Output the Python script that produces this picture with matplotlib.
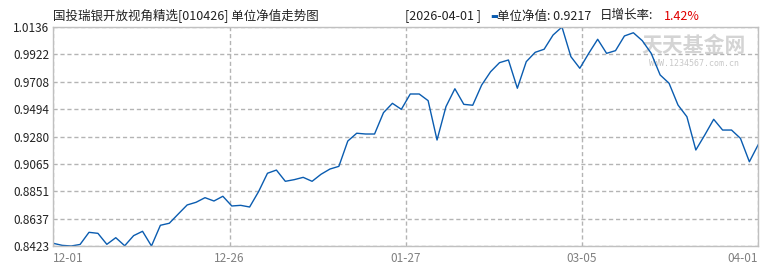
import matplotlib
matplotlib.use('Agg')
import matplotlib.pyplot as plt
import numpy as np

plt.rcParams['font.family'] = ['Noto Sans CJK SC', 'DejaVu Sans']

# 单位净值, trading days 2025-12-01 .. 2026-04-01
nav = [
    0.8444, 0.8428, 0.8423, 0.8435, 0.8530, 0.8522, 0.8436, 0.8488, 0.8425, 0.8504,
    0.8538, 0.8423, 0.8585, 0.8601, 0.8673, 0.8744, 0.8765, 0.8801, 0.8775, 0.8812,
    0.8736, 0.8741, 0.8728, 0.8848, 0.8992, 0.9017, 0.8929, 0.8942, 0.8960, 0.8929,
    0.8984, 0.9025, 0.9046, 0.9244, 0.9305, 0.9299, 0.9299, 0.9466, 0.9539, 0.9492,
    0.9612, 0.9612, 0.9560, 0.9252, 0.9513, 0.9653, 0.9531, 0.9524, 0.9682, 0.9786,
    0.9857, 0.9878, 0.9657, 0.9865, 0.9938, 0.9962, 1.0073, 1.0136, 0.9904, 0.9813,
    0.9930, 1.0040, 0.9930, 0.9951, 1.0066, 1.0091, 1.0029, 0.9930, 0.9761, 0.9696,
    0.9526, 0.9434, 0.9174, 0.9291, 0.9414, 0.9330, 0.9330, 0.9265, 0.9082, 0.9217,
]
x_labels = ['12-01', '12-26', '01-27', '03-05', '04-01']
y_labels = ['0.8423', '0.8637', '0.8851', '0.9065', '0.9280',
            '0.9494', '0.9708', '0.9922', '1.0136']

title = '国投瑞银开放视角精选[010426] 单位净值走势图'
last_date = '[2026-04-01 ]'
last_nav = '单位净值: 0.9217'
last_rate = '1.42%'

W, H = 770, 270
fig = plt.figure(figsize=(W / 100, H / 100), dpi=100)
ax = fig.add_axes([53.3 / W, 1 - 246 / H, 705 / W, 219 / H])
ax.patch.set_alpha(0)

x = np.arange(len(nav))
ax.plot(x, nav, color='#0a5cb0', lw=1.0)

ymin, ymax = min(nav), max(nav)
ax.set_xlim(0, len(nav) - 1)
ax.set_ylim(ymin, ymax)

ax.set_yticks(np.linspace(ymin, ymax, len(y_labels)))
ax.set_yticklabels(y_labels)
ax.set_xticks(np.linspace(0, len(nav) - 1, len(x_labels)))
ax.set_xticklabels(x_labels)
xl = ax.get_xticklabels()
xl[0].set_ha('left')
xl[-1].set_ha('right')

ax.tick_params(axis='both', length=0, labelsize=8.5)
ax.tick_params(axis='y', pad=3, labelcolor='#222222')
ax.tick_params(axis='x', pad=4, labelcolor='#808080')

ax.grid(True, color='#b4b4b4', lw=1.0, linestyle=(0, (3, 2)))
for s in ax.spines.values():
    s.set_color('#c0c0c0')
    s.set_linewidth(1.0)

# header
ty = 1 - 16 / H
fig.text(53 / W, ty, title, fontsize=9, va='center', ha='left', color='#222222')
fig.text(405 / W, ty, last_date, fontsize=9, va='center', ha='left', color='#222222')
fig.text(490 / W, ty, '▬', fontsize=6, va='center', ha='left', color='#0a5cb0',
         family=['DejaVu Sans'])
fig.text(497 / W, ty, last_nav, fontsize=9, va='center', ha='left', color='#222222')
fig.text(600 / W, ty, '日增长率:', fontsize=9, va='center', ha='left', color='#222222')
fig.text(664 / W, ty, last_rate, fontsize=9, va='center', ha='left', color='#e00000')

# watermark, behind the line
fig.text(694 / W, 1 - 46 / H, '天天基金网', fontsize=15, fontweight='bold',
         va='center', ha='center', color='#d4d4d4', zorder=-1)
fig.text(694 / W, 1 - 63 / H, 'WWW.1234567.com.cn', fontsize=6,
         va='center', ha='center', color='#c8c8c8', family=['DejaVu Sans Mono'],
         zorder=-1)

fig.savefig('out.png', dpi=100, facecolor='white')
